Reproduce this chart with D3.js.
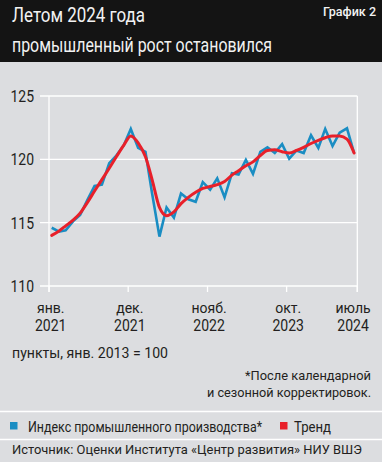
<!DOCTYPE html>
<html><head><meta charset="utf-8">
<script src="https://cdn.jsdelivr.net/npm/d3@7"></script>
<style>
html,body{margin:0;padding:0;background:#dcdde0;}
svg{display:block;}
text{font-family:Roboto,"DejaVu Sans",sans-serif;}
</style></head>
<body>
<script>
// ---- data ----
const startMonth = "2021-01";
const endMonth = "2024-07";
const indexValues = [114.6,114.3,114.4,115.1,115.6,116.8,117.9,118.0,119.7,120.3,121.1,122.4,
  120.9,120.6,117.3,113.9,116.2,115.4,117.3,116.85,116.65,118.2,117.6,118.5,117.0,118.9,118.8,
  119.95,118.85,120.6,120.95,120.5,121.2,120.05,120.7,120.5,121.9,120.9,122.4,121.05,122.1,122.45,120.5];
const trendValues = [114.0,114.35,114.75,115.2,115.75,116.6,117.5,118.4,119.3,120.2,121.1,121.85,
  121.3,120.2,118.4,116.2,115.55,115.85,116.5,117.0,117.4,117.7,117.85,118.0,118.25,118.75,119.1,
  119.5,119.8,120.3,120.7,120.75,120.6,120.5,120.7,120.95,121.25,121.5,121.7,121.85,121.85,121.6,120.5];
const tickDates = ["2021-01","2021-12","2022-11","2023-10","2024-07"];
const tickMonths = ["янв.","дек.","нояб.","окт.","июль"];
const tickYears = ["2021","2021","2022","2023","2024"];
const yTicks = [110,115,120,125];

const W=382,H=462;
const parse=d3.timeParse("%Y-%m");
const months=d3.timeMonth.range(parse(startMonth), d3.timeMonth.offset(parse(endMonth),1));
const x=d3.scaleTime().domain([parse(startMonth),parse(endMonth)]).range([51.7,354.1]);
const y=d3.scaleLinear().domain([110,125]).range([286,96]);
const frameL=49, frameR=357.3;

const svg=d3.select("body").append("svg").attr("width",W).attr("height",H);
svg.append("rect").attr("width",W).attr("height",H).attr("fill","#dcdde0");
// title bar
svg.append("rect").attr("width",W).attr("height",62).attr("fill","#141414");
function txt(g,s,xx,yy,size,len,anchor,fill,weight){
  const t=g.append("text").attr("x",xx).attr("y",yy).attr("font-size",size)
   .attr("fill",fill||"#231f20").attr("text-anchor",anchor||"start").text(s);
  if(weight) t.attr("font-weight",weight);
  if(len) t.attr("textLength",len).attr("lengthAdjust","spacingAndGlyphs");
  return t;
}
txt(svg,"Летом 2024 года",12,21.5,19.5,133,"start","#f2f2f2");
txt(svg,"промышленный рост остановился",12,51.5,19.5,260,"start","#f2f2f2");
txt(svg,"График 2",376,16,12.5,53,"end","#f2f2f2","500");

// grid
const g=svg.append("g");
g.selectAll("line.grid").data(yTicks).join("line")
 .attr("x1",40).attr("x2",frameR).attr("y1",d=>y(d)).attr("y2",d=>y(d))
 .attr("stroke","#fff").attr("stroke-width",1.3);
[frameL,frameR].forEach(xx=>g.append("line").attr("x1",xx).attr("x2",xx)
 .attr("y1",y(125)).attr("y2",y(110)+6).attr("stroke","#fff").attr("stroke-width",1.3));
// x ticks
g.selectAll("line.xt").data(tickDates).join("line")
 .attr("x1",(d,i)=>i===tickDates.length-1?frameR:x(parse(d))-2.6)
 .attr("x2",(d,i)=>i===tickDates.length-1?frameR:x(parse(d))-2.6)
 .attr("y1",y(110)).attr("y2",y(110)+6).attr("stroke","#fff").attr("stroke-width",1.3);
// y labels
yTicks.forEach(v=>txt(g,String(v),34,y(v)+6,16,23.5,"end"));
// x labels
tickDates.forEach((d,i)=>{
  const xx=x(parse(d))-1;
  txt(g,tickMonths[i],xx,313,14,null,"middle");
  txt(g,tickYears[i],xx,331,16,31.5,"middle");
});

// lines
const lineIdx=d3.line().x((d,i)=>x(months[i])).y(d=>y(d));
g.append("path").attr("d",lineIdx(indexValues)).attr("fill","none")
 .attr("stroke","#1a8dc3").attr("stroke-width",2.6).attr("stroke-linejoin","miter");
const lineTr=d3.line().x((d,i)=>x(months[i])).y(d=>y(d)).curve(d3.curveMonotoneX);
g.append("path").attr("d",lineTr(trendValues)).attr("fill","none")
 .attr("stroke","#e8202a").attr("stroke-width",3).attr("stroke-linecap","round");

// notes
txt(svg,"пункты, янв. 2013 = 100",12,358,14,156);
txt(svg,"*После календарной",371,380,13.5,126,"end");
txt(svg,"и сезонной корректировок.",371,396.5,13.5,164,"end");
// separators
[411.5,439.5].forEach(yy=>svg.append("line").attr("x1",0).attr("x2",W).attr("y1",yy).attr("y2",yy)
 .attr("stroke","#fff").attr("stroke-width",1.5));
// legend
svg.append("rect").attr("x",10).attr("y",422).attr("width",7.5).attr("height",7.5).attr("fill","#1a8dc3");
txt(svg,"Индекс промышленного производства*",28,431.5,14,234);
svg.append("rect").attr("x",280).attr("y",422).attr("width",7.5).attr("height",7.5).attr("fill","#e8202a");
txt(svg,"Тренд",294,431.5,14,37);
txt(svg,"Источник: Оценки Института «Центр развития» НИУ ВШЭ",12,453.5,13,350);
</script>
</body></html>
